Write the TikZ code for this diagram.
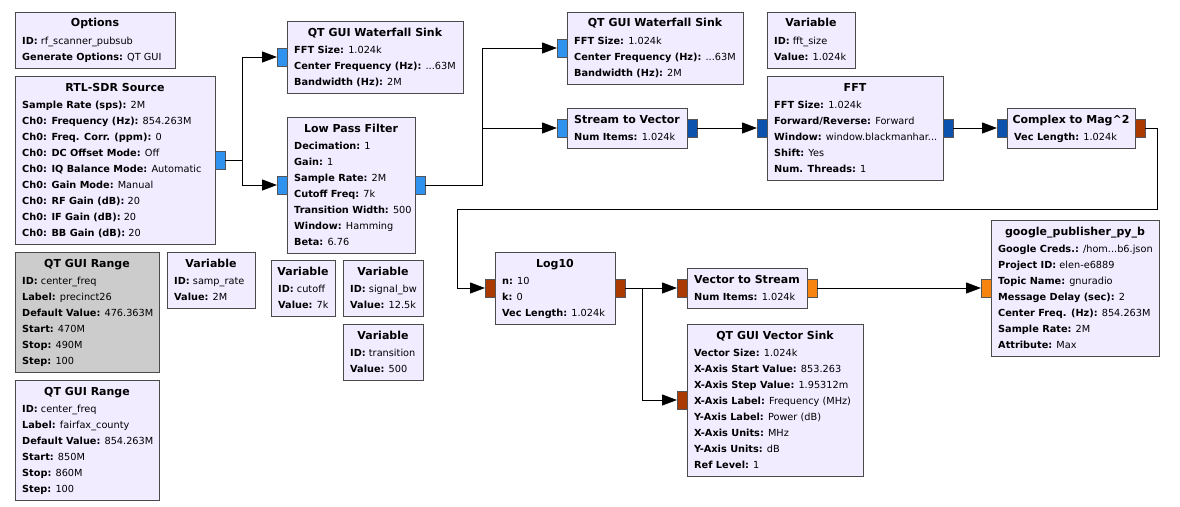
\documentclass[tikz,border=0pt]{standalone}
\usepackage{fontspec}
\setmainfont{DejaVu Sans}
\usetikzlibrary{arrows.meta,calc}
\definecolor{blkfill}{HTML}{F1ECFF}
\definecolor{blkgray}{HTML}{CCCCCC}
\definecolor{blkline}{HTML}{4A4A4A}
\definecolor{cLB}{HTML}{2F92EE}
\definecolor{cDB}{HTML}{0B52AE}
\definecolor{cRust}{HTML}{AA3A00}
\definecolor{cOr}{HTML}{F88410}
\definecolor{portline}{HTML}{555555}
\newcommand{\tdots}{...}
\tikzset{
 blk/.style={draw=blkline, fill=blkfill, line width=1pt, inner sep=0, outer sep=0},
 blkoff/.style={blk, fill=blkgray},
 ttl/.style={anchor=base, inner sep=0, font=\fontsize{11}{13}\selectfont\bfseries},
 prm/.style={anchor=base west, inner sep=0, font=\fontsize{9.75}{12}\selectfont},
 port/.style={draw=portline, line width=1pt, minimum width=10, minimum height=18, inner sep=0, outer sep=0},
 conn/.style={draw=black, line width=1pt, -{Triangle[length=15pt,width=11pt]}},
}
\newcommand{\grblock}[8]{%
  \node[#1, minimum width=#5, minimum height=#6, anchor=north west] (#2) at (#3,#4) {};
  \node[ttl] at ($(#2.north west)+(#5/2,15)$) {#7};
  \foreach \pline [count=\k] in {#8} {\node[prm] at ($(#2.north west)+(7,16*\k+16)$) {\pline};}
}
\begin{document}
\begin{tikzpicture}[x=1pt,y=-1pt]
\fill[white] (0,0) rectangle (1180,506);
\useasboundingbox (0,0) rectangle (1180,506);

\grblock{blk}{opt}{15}{12}{160}{56}{Options}{{\textbf{ID:} rf\_scanner\_pubsub},{\textbf{Generate Options:} QT GUI}}
\grblock{blk}{rtl}{15}{76}{200}{168}{RTL-SDR Source}{{\textbf{Sample Rate (sps):} 2M},{\textbf{Ch0: Frequency (Hz):} 854.263M},{\textbf{Ch0: Freq. Corr. (ppm):} 0},{\textbf{Ch0: DC Offset Mode:} Off},{\textbf{Ch0: IQ Balance Mode:} Automatic},{\textbf{Ch0: Gain Mode:} Manual},{\textbf{Ch0: RF Gain (dB):} 20},{\textbf{Ch0: IF Gain (dB):} 20},{\textbf{Ch0: BB Gain (dB):} 20}}
\grblock{blk}{wf1}{287}{21}{176}{72}{QT GUI Waterfall Sink}{{\textbf{FFT Size:} 1.024k},{\textbf{Center Frequency (Hz):} \tdots 63M},{\textbf{Bandwidth (Hz):} 2M}}
\grblock{blk}{lpf}{287}{117}{128}{136}{Low Pass Filter}{{\textbf{Decimation:} 1},{\textbf{Gain:} 1},{\textbf{Sample Rate:} 2M},{\textbf{Cutoff Freq:} 7k},{\textbf{Transition Width:} 500},{\textbf{Window:} Hamming},{\textbf{Beta:} 6.76}}
\grblock{blk}{wf2}{567}{12}{176}{72}{QT GUI Waterfall Sink}{{\textbf{FFT Size:} 1.024k},{\textbf{Center Frequency (Hz):} \tdots 63M},{\textbf{Bandwidth (Hz):} 2M}}
\grblock{blk}{s2v}{567}{108}{120}{40}{Stream to Vector}{{\textbf{Num Items:} 1.024k}}
\grblock{blk}{vfft}{767}{12}{88}{56}{Variable}{{\textbf{ID:} fft\_size},{\textbf{Value:} 1.024k}}
\grblock{blk}{fft}{767}{76}{176}{104}{FFT}{{\textbf{FFT Size:} 1.024k},{\textbf{Forward/Reverse:} Forward},{\textbf{Window:} window.blackmanhar\tdots},{\textbf{Shift:} Yes},{\textbf{Num. Threads:} 1}}
\grblock{blk}{c2m}{1007}{108}{128}{40}{Complex to Mag\textasciicircum 2}{{\textbf{Vec Length:} 1.024k}}
\grblock{blk}{log}{495}{252}{120}{72}{Log10}{{\textbf{n:} 10},{\textbf{k:} 0},{\textbf{Vec Length:} 1.024k}}
\grblock{blk}{v2s}{687}{268}{120}{40}{Vector to Stream}{{\textbf{Num Items:} 1.024k}}
\grblock{blk}{vs}{687}{324}{176}{152}{QT GUI Vector Sink}{{\textbf{Vector Size:} 1.024k},{\textbf{X-Axis Start Value:} 853.263},{\textbf{X-Axis Step Value:} 1.95312m},{\textbf{X-Axis Label:} Frequency (MHz)},{\textbf{Y-Axis Label:} Power (dB)},{\textbf{X-Axis Units:} MHz},{\textbf{Y-Axis Units:} dB},{\textbf{Ref Level:} 1}}
\grblock{blk}{gp}{991}{220}{168}{136}{google\_publisher\_py\_b}{{\textbf{Google Creds.:} /hom\tdots b6.json},{\textbf{Project ID:} elen-e6889},{\textbf{Topic Name:} gnuradio},{\textbf{Message Delay (sec):} 2},{\textbf{Center Freq. (Hz):} 854.263M},{\textbf{Sample Rate:} 2M},{\textbf{Attribute:} Max}}
\grblock{blkoff}{rng1}{15}{252}{144}{120}{QT GUI Range}{{\textbf{ID:} center\_freq},{\textbf{Label:} precinct26},{\textbf{Default Value:} 476.363M},{\textbf{Start:} 470M},{\textbf{Stop:} 490M},{\textbf{Step:} 100}}
\grblock{blk}{rng2}{15}{380}{144}{120}{QT GUI Range}{{\textbf{ID:} center\_freq},{\textbf{Label:} fairfax\_county},{\textbf{Default Value:} 854.263M},{\textbf{Start:} 850M},{\textbf{Stop:} 860M},{\textbf{Step:} 100}}
\grblock{blk}{vsr}{167}{252}{88}{56}{Variable}{{\textbf{ID:} samp\_rate},{\textbf{Value:} 2M}}
\grblock{blk}{vco}{271}{260}{64}{56}{Variable}{{\textbf{ID:} cutoff},{\textbf{Value:} 7k}}
\grblock{blk}{vbw}{343}{260}{80}{56}{Variable}{{\textbf{ID:} signal\_bw},{\textbf{Value:} 12.5k}}
\grblock{blk}{vtr}{343}{324}{80}{56}{Variable}{{\textbf{ID:} transition},{\textbf{Value:} 500}}

% ports
\node[port, fill=cLB, anchor=west] (rtl-out) at (rtl.east) {};
\node[port, fill=cLB, anchor=east] (wf1-in) at (wf1.west) {};
\node[port, fill=cLB, anchor=east] (lpf-in) at (lpf.west) {};
\node[port, fill=cLB, anchor=west] (lpf-out) at (lpf.east) {};
\node[port, fill=cLB, anchor=east] (wf2-in) at (wf2.west) {};
\node[port, fill=cLB, anchor=east] (s2v-in) at (s2v.west) {};
\node[port, fill=cDB, anchor=west] (s2v-out) at (s2v.east) {};
\node[port, fill=cDB, anchor=east] (fft-in) at (fft.west) {};
\node[port, fill=cDB, anchor=west] (fft-out) at (fft.east) {};
\node[port, fill=cDB, anchor=east] (c2m-in) at (c2m.west) {};
\node[port, fill=cRust, anchor=west] (c2m-out) at (c2m.east) {};
\node[port, fill=cRust, anchor=east] (log-in) at (log.west) {};
\node[port, fill=cRust, anchor=west] (log-out) at (log.east) {};
\node[port, fill=cRust, anchor=east] (v2s-in) at (v2s.west) {};
\node[port, fill=cOr, anchor=west] (v2s-out) at (v2s.east) {};
\node[port, fill=cRust, anchor=east] (vs-in) at (vs.west) {};
\node[port, fill=cOr, anchor=east] (gp-in) at (gp.west) {};

% connections
\draw[conn] (rtl-out.east) -- ++(17,0) |- (wf1-in.west);
\draw[conn] (rtl-out.east) -- ++(17,0) |- (lpf-in.west);
\draw[conn] (lpf-out.east) -- ++(57,0) |- (wf2-in.west);
\draw[conn] (lpf-out.east) -- ++(57,0) |- (s2v-in.west);
\draw[conn] (s2v-out.east) -- (fft-in.west);
\draw[conn] (fft-out.east) -- (c2m-in.west);
\coordinate (r1) at (1157,209);
\coordinate (r2) at (457,209);
\draw[conn] (c2m-out.east) -| (r1) -- (r2) |- (log-in.west);
\draw[conn] (log-out.east) -- (v2s-in.west);
\draw[conn] (log-out.east) -- ++(17,0) |- (vs-in.west);
\draw[conn] (v2s-out.east) -- (gp-in.west);
\end{tikzpicture}
\end{document}
